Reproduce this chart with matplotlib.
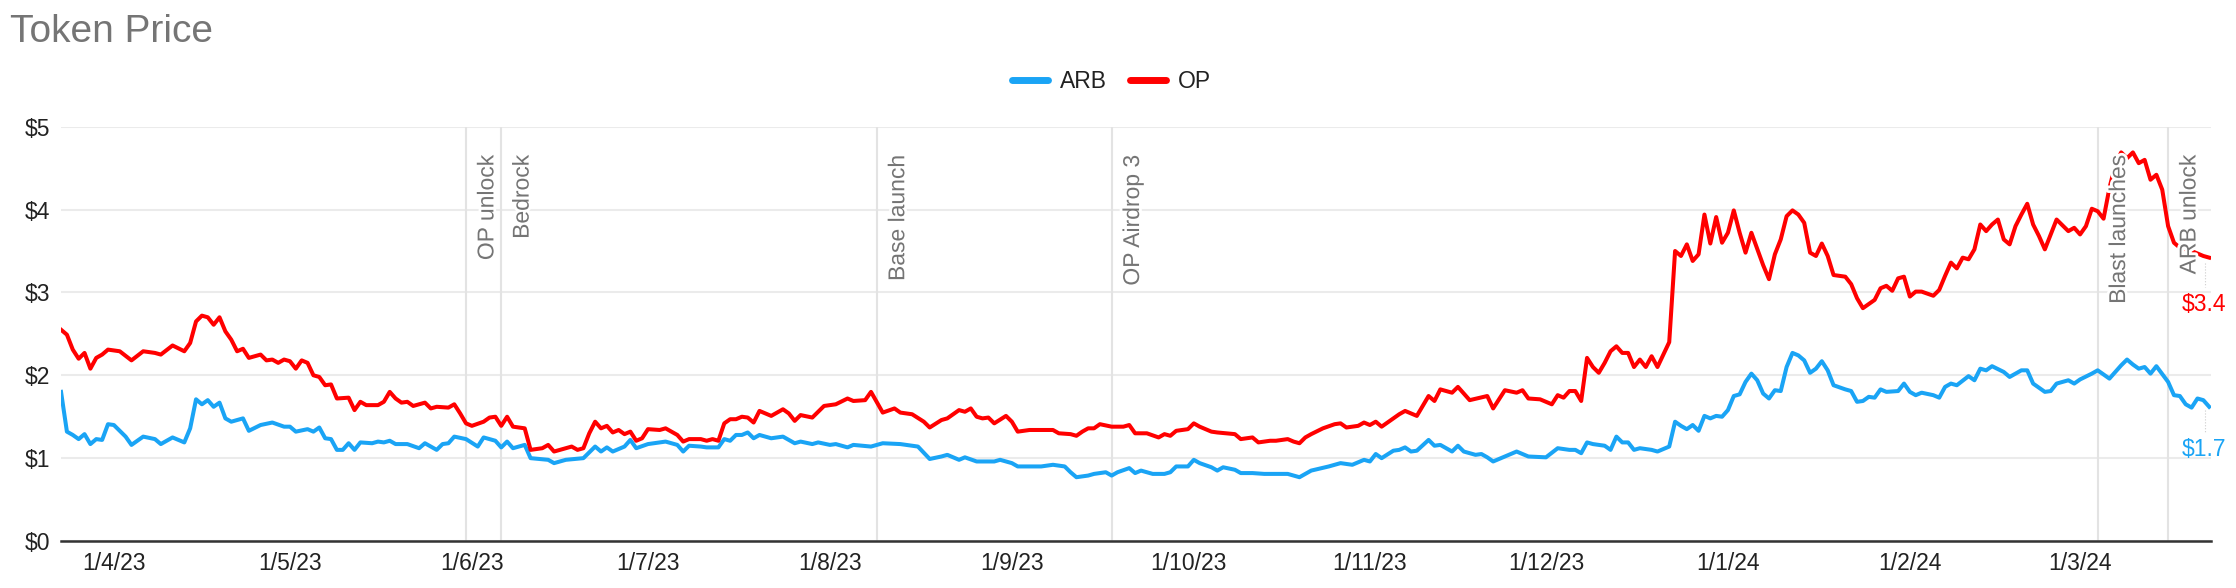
import numpy as np
import pandas as pd
import matplotlib
matplotlib.use('Agg')
import matplotlib.pyplot as plt
import matplotlib.patheffects as pe
from matplotlib.lines import Line2D

plt.rcParams['font.family'] = ['Liberation Sans', 'DejaVu Sans']

# days since ARB launch (2023-03-23), daily closes
start = pd.Timestamp('2023-03-23')

op_day = [0, 1, 2, 3, 4, 5, 6, 7, 8, 10, 12, 14, 16, 17, 19, 21, 22, 23, 24, 25, 26, 27, 28, 29, 30, 31, 32, 34, 35, 36, 37, 38, 39, 40, 41, 42, 43, 44, 45, 46, 47, 49, 50,
          51, 52, 54, 55, 56, 57, 58, 59, 60, 62, 63, 64, 66, 67, 68, 69, 70, 72, 73, 74, 75, 76, 77, 79, 80, 82, 83, 84, 86, 87, 88, 89, 90, 91, 92, 93, 94, 95, 96, 97, 98, 99, 100, 102, 103,
          105, 106, 107, 109, 110, 111, 112, 113, 114, 115, 116, 117, 118, 119, 121, 123, 124, 125, 126, 128, 130, 131, 132, 134, 135, 137, 138, 140, 142, 143, 145, 147, 148, 150, 151, 153, 154, 155, 156,
          157, 158, 159, 161, 162, 163, 165, 167, 169, 170, 172, 173, 174, 175, 176, 177, 179, 181, 182, 183, 185, 187, 188, 189, 190, 192, 193, 194, 196, 197, 200, 201, 203, 204, 206, 207, 209,
          210, 211, 212, 213, 215, 217, 218, 219, 221, 222, 223, 224, 225, 228, 229, 231, 233, 234, 235, 237, 238, 239, 240, 243, 244, 246, 248, 249, 250, 252, 254, 255, 256, 257, 258, 259, 260, 261,
          262, 263, 264, 265, 266, 267, 268, 269, 270, 271, 272, 274, 275, 276, 277, 278, 279, 280, 281, 282, 283, 284, 285, 286, 287, 288, 290, 291, 292, 293, 294, 295, 296, 297, 298, 299, 300, 301, 302, 304, 305, 306, 307, 309, 310, 311, 312, 313, 314,
          315, 316, 317, 319, 320, 321, 322, 323, 324, 325, 326, 327, 328, 329, 330, 331, 332, 333, 334, 335, 336, 337, 338, 339, 340, 342, 343, 344, 345, 346, 347, 348, 349, 350, 351, 352, 353, 354, 355, 356, 357, 358, 359, 360, 361, 363, 365, 366]
op_price = [2.55, 2.49, 2.31, 2.20, 2.27, 2.08, 2.21, 2.25, 2.31, 2.29, 2.18, 2.29, 2.27, 2.25, 2.36, 2.29, 2.39, 2.65, 2.72, 2.70, 2.61, 2.70, 2.53, 2.43, 2.29, 2.32, 2.21, 2.25, 2.18, 2.19, 2.15, 2.19, 2.17, 2.08, 2.18, 2.15, 2.00, 1.98, 1.88, 1.89, 1.72, 1.73, 1.58,
            1.68, 1.64, 1.64, 1.68, 1.80, 1.72, 1.67, 1.68, 1.63, 1.67, 1.60, 1.62, 1.61, 1.65, 1.54, 1.42, 1.39, 1.44, 1.49, 1.50, 1.39, 1.50, 1.38, 1.36, 1.10, 1.12, 1.16, 1.08, 1.12, 1.14, 1.10, 1.12, 1.30, 1.44, 1.36, 1.39, 1.31, 1.34, 1.29, 1.32, 1.21, 1.24, 1.35, 1.34, 1.36,
            1.28, 1.20, 1.23, 1.23, 1.21, 1.23, 1.21, 1.42, 1.47, 1.47, 1.50, 1.49, 1.43, 1.57, 1.51, 1.59, 1.54, 1.45, 1.52, 1.49, 1.63, 1.64, 1.65, 1.72, 1.69, 1.70, 1.80, 1.55, 1.60, 1.55, 1.53, 1.44, 1.37, 1.46, 1.48, 1.58, 1.56, 1.60, 1.50,
            1.48, 1.49, 1.42, 1.51, 1.44, 1.32, 1.34, 1.34, 1.34, 1.30, 1.29, 1.27, 1.32, 1.36, 1.36, 1.41, 1.38, 1.38, 1.40, 1.30, 1.30, 1.25, 1.29, 1.27, 1.33, 1.35, 1.42, 1.38, 1.32, 1.31, 1.29, 1.23, 1.25, 1.19, 1.21, 1.21, 1.23,
            1.20, 1.18, 1.25, 1.29, 1.36, 1.41, 1.42, 1.37, 1.39, 1.43, 1.40, 1.44, 1.38, 1.53, 1.57, 1.51, 1.75, 1.69, 1.83, 1.79, 1.86, 1.78, 1.70, 1.75, 1.60, 1.82, 1.79, 1.82, 1.72, 1.71, 1.65, 1.76, 1.73, 1.81, 1.81, 1.69, 2.21, 2.10,
            2.03, 2.15, 2.29, 2.35, 2.27, 2.27, 2.10, 2.19, 2.10, 2.23, 2.10, 2.40, 3.50, 3.44, 3.58, 3.38, 3.46, 3.94, 3.59, 3.91, 3.60, 3.72, 3.99, 3.72, 3.48, 3.72, 3.33, 3.16, 3.46, 3.64, 3.92, 3.99, 3.94, 3.84, 3.48, 3.44, 3.59, 3.44, 3.21, 3.19, 3.10, 2.93, 2.81, 2.91, 3.05, 3.08, 3.02, 3.17, 3.19,
            2.95, 3.01, 3.01, 2.96, 3.03, 3.20, 3.36, 3.29, 3.42, 3.40, 3.52, 3.82, 3.74, 3.82, 3.88, 3.64, 3.58, 3.80, 3.94, 4.07, 3.82, 3.68, 3.52, 3.70, 3.88, 3.74, 3.78, 3.70, 3.80, 4.01, 3.98, 3.89, 4.26, 4.54, 4.69, 4.62, 4.69, 4.56, 4.60, 4.36, 4.42, 4.24, 3.80, 3.60, 3.54, 3.50, 3.44, 3.42]

arb_day = [0, 1, 2, 3, 4, 5, 6, 7, 8, 9, 11, 12, 14, 16, 17, 19, 21, 22, 23, 24, 25, 26, 27, 28, 29, 31, 32, 34, 36, 38, 39, 40, 42, 43, 44, 45, 46, 47, 48, 49, 50,
           51, 53, 54, 55, 56, 57, 59, 61, 62, 64, 65, 66, 67, 69, 71, 72, 74, 75, 76, 77, 79, 80, 83, 84, 86, 89, 91, 92, 93, 94, 96, 97, 98, 100, 103,
           105, 106, 107, 109, 110, 112, 113, 114, 115, 116, 117, 118, 119, 121, 123, 125, 126, 128, 129, 131, 132, 134, 135, 138, 140, 143, 145, 146, 148, 150, 151, 153, 154, 156,
           158, 159, 160, 162, 163, 165, 167, 169, 171, 172, 173, 175, 176, 178, 179, 180, 182, 183, 184, 186, 188, 189, 190, 192, 193, 194, 196, 197, 198, 200, 201, 203, 205, 207, 209,
           211, 213, 216, 218, 220, 222, 223, 224, 225, 227, 228, 229, 230, 231, 233, 234, 235, 237, 238, 239, 241, 242, 243, 244, 246, 248, 250, 253, 255, 257, 258, 259, 260, 261,
           263, 264, 265, 266, 267, 268, 269, 271, 272, 274, 275, 276, 277, 278, 279, 280, 281, 282, 283, 284, 285, 286, 287, 288, 289, 290, 291, 292, 293, 294, 295, 296, 297, 298, 299, 300, 301, 302, 304, 305, 306, 307, 308, 309, 310, 311, 313, 314,
           315, 316, 317, 319, 320, 321, 322, 323, 325, 326, 327, 328, 329, 331, 332, 334, 335, 336, 338, 339, 340, 342, 343, 344, 346, 347, 349, 350, 351, 352, 353, 354, 355, 356, 357, 359, 360, 361, 362, 363, 364, 365, 366]
arb_price = [1.80, 1.32, 1.28, 1.23, 1.29, 1.17, 1.23, 1.22, 1.41, 1.40, 1.26, 1.16, 1.26, 1.23, 1.17, 1.25, 1.19, 1.36, 1.71, 1.65, 1.70, 1.62, 1.67, 1.48, 1.44, 1.48, 1.33, 1.40, 1.43, 1.38, 1.38, 1.32, 1.35, 1.32, 1.37, 1.24, 1.23, 1.10, 1.10, 1.18, 1.10,
             1.19, 1.18, 1.20, 1.19, 1.21, 1.17, 1.17, 1.12, 1.18, 1.10, 1.17, 1.18, 1.26, 1.23, 1.14, 1.25, 1.21, 1.13, 1.20, 1.12, 1.16, 1.00, 0.98, 0.94, 0.98, 1.00, 1.14, 1.08, 1.13, 1.08, 1.14, 1.22, 1.12, 1.17, 1.20,
             1.16, 1.08, 1.15, 1.14, 1.13, 1.13, 1.23, 1.21, 1.28, 1.28, 1.31, 1.24, 1.28, 1.24, 1.26, 1.18, 1.20, 1.17, 1.19, 1.16, 1.17, 1.13, 1.16, 1.14, 1.18, 1.17, 1.15, 1.14, 0.99, 1.02, 1.04, 0.98, 1.01, 0.96,
             0.96, 0.96, 0.98, 0.94, 0.90, 0.90, 0.90, 0.92, 0.90, 0.83, 0.77, 0.79, 0.81, 0.83, 0.79, 0.83, 0.88, 0.82, 0.85, 0.81, 0.81, 0.83, 0.90, 0.90, 0.98, 0.94, 0.89, 0.85, 0.89, 0.86, 0.82, 0.82, 0.81, 0.81, 0.81,
             0.77, 0.85, 0.90, 0.94, 0.92, 0.98, 0.96, 1.05, 1.00, 1.09, 1.10, 1.13, 1.08, 1.09, 1.22, 1.15, 1.16, 1.08, 1.15, 1.08, 1.04, 1.05, 1.01, 0.96, 1.02, 1.08, 1.02, 1.01, 1.12, 1.10, 1.10, 1.06, 1.19, 1.17,
             1.15, 1.10, 1.26, 1.19, 1.19, 1.10, 1.12, 1.10, 1.08, 1.14, 1.44, 1.39, 1.35, 1.40, 1.33, 1.51, 1.48, 1.51, 1.50, 1.58, 1.75, 1.77, 1.92, 2.02, 1.94, 1.78, 1.72, 1.82, 1.81, 2.10, 2.27, 2.24, 2.18, 2.03, 2.08, 2.17, 2.06, 1.88, 1.83, 1.81, 1.68, 1.69, 1.74, 1.73, 1.83, 1.80, 1.81, 1.90,
             1.80, 1.76, 1.79, 1.76, 1.73, 1.86, 1.90, 1.88, 1.99, 1.94, 2.08, 2.06, 2.11, 2.04, 1.98, 2.06, 2.06, 1.90, 1.80, 1.81, 1.90, 1.94, 1.90, 1.95, 2.02, 2.06, 1.96, 2.04, 2.12, 2.19, 2.13, 2.08, 2.10, 2.02, 2.11, 1.92, 1.76, 1.75, 1.65, 1.61, 1.72, 1.70, 1.62]

events = ['OP unlock', 'Bedrock', 'Base launch', 'OP Airdrop 3', 'Blast launches', 'ARB unlock']
event_dates = ['2023-05-31', '2023-06-06', '2023-08-09', '2023-09-18', '2024-03-04', '2024-03-16']

yticks = [0, 1, 2, 3, 4, 5]
ytick_labels = ['$0', '$1', '$2', '$3', '$4', '$5']
xticks = pd.date_range('2023-04-01', '2024-03-01', freq='MS')
xtick_labels = [f'{d.day}/{d.month}/{d.strftime("%y")}' for d in xticks]

end_labels = ['$3.4', '$1.7']

BLUE = '#1aa4f5'
RED = '#ff0000'
GREY = '#757575'

op_x = start + pd.to_timedelta(op_day, unit='D')
arb_x = start + pd.to_timedelta(arb_day, unit='D')

fig = plt.figure(figsize=(22.36, 5.88), dpi=100)
ax = fig.add_axes([0.0273, 0.0799, 0.9615, 0.7046])

for d in event_dates:
    ax.axvline(pd.Timestamp(d), color='#e3e3e3', lw=1.5, zorder=1)

ax.plot(arb_x, arb_price, color=BLUE, lw=2.9, zorder=3, solid_joinstyle='round')
ax.plot(op_x, op_price, color=RED, lw=2.9, zorder=3, solid_joinstyle='round')

halo = [pe.withStroke(linewidth=4, foreground='white')]
for name, d in zip(events, event_dates):
    t = pd.Timestamp(d) + pd.Timedelta(days=1.6)
    ax.text(t, 4.66, name, rotation=90, ha='left', va='top', color=GREY,
            fontsize=16.5, path_effects=halo, zorder=4)

end_x = start + pd.Timedelta(days=361.3)
ax.text(end_x, 2.86, end_labels[0], color=RED, fontsize=16.5, ha='left', va='center', clip_on=False)
ax.text(end_x, 1.11, end_labels[1], color=BLUE, fontsize=16.5, ha='left', va='center', clip_on=False)
lead_x = start + pd.Timedelta(days=365.2)
ax.plot([lead_x, lead_x], [3.36, 3.06], color='#cccccc', lw=0.8, ls=':', clip_on=False)
ax.plot([lead_x, lead_x], [1.58, 1.30], color='#cccccc', lw=0.8, ls=':', clip_on=False)

ax.set_xlim(start, start + pd.Timedelta(days=366.3))
ax.set_ylim(0, 5)
ax.set_yticks(yticks)
ax.set_yticklabels(ytick_labels)
ax.set_xticks(xticks)
ax.set_xticklabels(xtick_labels)
ax.tick_params(axis='both', length=0, labelsize=16.5, colors='#222222')
ax.tick_params(axis='y', pad=8)
ax.tick_params(axis='x', pad=8)
ax.grid(axis='y', color='#ebebeb', lw=1.5)
ax.set_axisbelow(True)
for s in ['top', 'right', 'left']:
    ax.spines[s].set_visible(False)
ax.spines['bottom'].set_color('#333333')
ax.spines['bottom'].set_linewidth(1.8)
ax.spines['bottom'].set_zorder(5)

fig.text(10 / 2236, 0.9286, 'Token Price', color=GREY, fontsize=28, ha='left', va='baseline')

handles = [Line2D([], [], color=BLUE, lw=5, solid_capstyle='round'),
           Line2D([], [], color=RED, lw=5, solid_capstyle='round')]
fig.legend(handles, ['ARB', 'OP'], loc='center', bbox_to_anchor=(0.497, 0.861), ncol=2,
           frameon=False, fontsize=16.5, handlelength=1.6, handletextpad=0.5, columnspacing=1.0,
           labelcolor='#222222')

fig.savefig('out.png', dpi=100)
